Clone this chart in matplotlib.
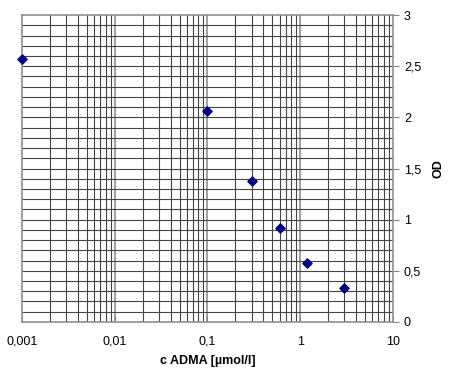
import matplotlib.pyplot as plt
import numpy as np
from matplotlib.ticker import FixedLocator

plt.rcParams['font.family'] = ['Liberation Sans', 'DejaVu Sans']

# Data
conc = [0.001, 0.1, 0.3, 0.6, 1.2, 3.0]
od = [2.57, 2.06, 1.38, 0.92, 0.58, 0.33]
x_ticks = [0.001, 0.01, 0.1, 1, 10]
x_labels = ['0,001', '0,01', '0,1', '1', '10']
y_ticks = [0, 0.5, 1, 1.5, 2, 2.5, 3]
y_labels = ['0', '0,5', '1', '1,5', '2', '2,5', '3']

fig = plt.figure(figsize=(4.5, 3.77), dpi=100)
ax = fig.add_axes([0.049, 0.146, 0.824, 0.814])

ax.set_xscale('log')
ax.set_xlim(0.001, 10)
ax.set_ylim(0, 3)

# grid lines
minor_x = [m * 10.0 ** e for e in range(-3, 1) for m in range(2, 10)]
for xv in minor_x:
    ax.axvline(xv, color='#444444', lw=0.8, zorder=1)
for xv in x_ticks[1:-1]:
    ax.axvline(xv, color='#a0a0a0', lw=1.4, zorder=1)
for yv in np.arange(0.1, 3.0, 0.1):
    ax.axhline(yv, color='#444444', lw=0.8, zorder=1)

ax.scatter(conc, od, marker='D', s=22, color='#000080', zorder=3, clip_on=False)

ax.xaxis.set_major_locator(FixedLocator(x_ticks))
ax.xaxis.set_minor_locator(FixedLocator([]))
ax.set_xticklabels(x_labels)
ax.yaxis.set_major_locator(FixedLocator(y_ticks))
ax.set_yticklabels(y_labels)

ax.yaxis.tick_right()
ax.yaxis.set_label_position('right')
ax.tick_params(axis='y', direction='out', length=4, width=0.8, colors='#808080',
               labelcolor='black', labelsize=9, pad=4)
ax.tick_params(axis='x', direction='in', length=4, width=0.8, colors='#808080',
               labelcolor='black', labelsize=9, pad=10)

for side in ['top', 'left', 'right', 'bottom']:
    ax.spines[side].set_color('#909090')
    ax.spines[side].set_linewidth(1.2)

ax.set_xlabel('c ADMA [µmol/l]', fontsize=9, fontweight='bold', labelpad=5)
ax.set_ylabel('OD', fontsize=9, fontweight='bold', labelpad=8)

fig.savefig('out.png', dpi=100)
